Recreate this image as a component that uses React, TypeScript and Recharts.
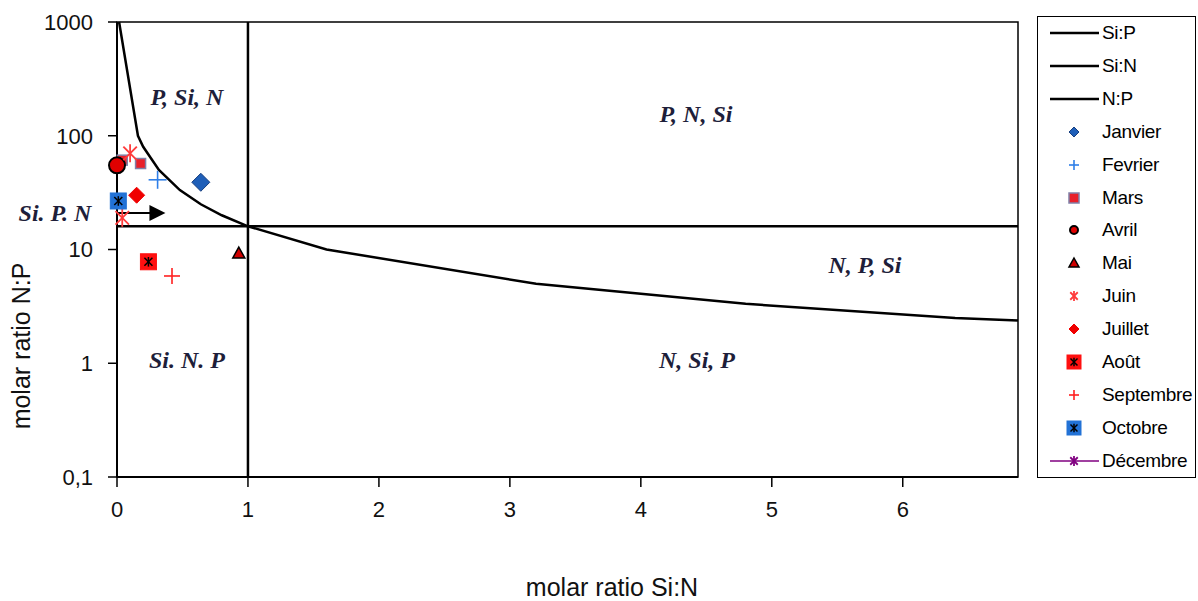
import React from 'react';
import { ScatterChart, Scatter, XAxis, YAxis, ReferenceLine, ReferenceArea } from 'recharts';

// Si:P = 16 boundary
const siPX = [0.016, 0.16, 0.2, 0.32, 0.48, 0.64, 0.8, 1, 1.6, 3.2, 4.8, 6.4, 6.88];
const siPY = [1000, 100, 80, 50, 33.3, 25, 20, 16, 10, 5, 3.33, 2.5, 2.38];
const siNX = [1, 1];
const siNY = [0.1, 1000];
const nPX = [0, 6.88];
const nPY = [16, 16];

const months = ['Janvier', 'Fevrier', 'Mars', 'Avril', 'Mai', 'Juin', 'Juillet', 'Août', 'Septembre', 'Octobre', 'Décembre'];
const monthX = [[0.64], [0.31], [0.18, 0.04], [0], [0.93], [0.1, 0.04], [0.15], [0.24], [0.42], [0.01], []];
const monthY = [[39], [41], [57, 61], [55], [9.3], [70, 19], [30], [7.8], [5.85], [26.7], []];

const xTicks = [0, 1, 2, 3, 4, 5, 6];
const yTicks = [0.1, 1, 10, 100, 1000];
const arrowX = [0, 0.37];
const arrowY = 20.9;

const regionLabels = ['P, Si, N', 'P, N, Si', 'Si. P. N', 'N, P, Si', 'Si. N. P', 'N, Si, P'];
const regionPos = [[187, 97], [696, 114], [55, 213], [865, 265], [187, 360], [697, 360]];

const styles: Record<string, { kind: string; fill: string; stroke: string }> = {
  Janvier: { kind: 'diamond', fill: '#1f5fb8', stroke: '#173f80' },
  Fevrier: { kind: 'plus', fill: 'none', stroke: '#2f7fe8' },
  Mars: { kind: 'square', fill: '#e8202a', stroke: '#8080a8' },
  Avril: { kind: 'circle', fill: '#e00000', stroke: '#000' },
  Mai: { kind: 'triangle', fill: '#d00000', stroke: '#000' },
  Juin: { kind: 'star', fill: 'none', stroke: '#ff3b3b' },
  Juillet: { kind: 'diamond', fill: '#f00000', stroke: '#f00000' },
  Août: { kind: 'xsquare', fill: '#ff1010', stroke: '#000' },
  Septembre: { kind: 'plus', fill: 'none', stroke: '#ff2020' },
  Octobre: { kind: 'xsquare', fill: '#2272d6', stroke: '#000' },
  Décembre: { kind: 'star', fill: 'none', stroke: '#800080' },
};

const plotSize: Record<string, number> = {
  Janvier: 9, Fevrier: 9, Mars: 5, Avril: 8, Mai: 6, Juin: 9, Juillet: 8, Août: 8, Septembre: 8, Octobre: 8, Décembre: 6,
};

function Marker({ kind, cx, cy, s, fill, stroke }: any) {
  if (kind === 'diamond')
    return <polygon points={`${cx},${cy - s} ${cx + s},${cy} ${cx},${cy + s} ${cx - s},${cy}`} fill={fill} stroke={stroke} strokeWidth={1} />;
  if (kind === 'plus')
    return (
      <g stroke={stroke} strokeWidth={1.6}>
        <line x1={cx - s} y1={cy} x2={cx + s} y2={cy} />
        <line x1={cx} y1={cy - s} x2={cx} y2={cy + s} />
      </g>
    );
  if (kind === 'square')
    return <rect x={cx - s} y={cy - s} width={2 * s} height={2 * s} fill={fill} stroke={stroke} strokeWidth={1.5} />;
  if (kind === 'circle') return <circle cx={cx} cy={cy} r={s} fill={fill} stroke={stroke} strokeWidth={2} />;
  if (kind === 'triangle')
    return <polygon points={`${cx},${cy - s} ${cx + s},${cy + s * 0.8} ${cx - s},${cy + s * 0.8}`} fill={fill} stroke={stroke} strokeWidth={1.5} />;
  if (kind === 'star') {
    const d = s * 0.75;
    return (
      <g stroke={stroke} strokeWidth={1.8}>
        <line x1={cx} y1={cy - s} x2={cx} y2={cy + s} />
        <line x1={cx - d} y1={cy - d} x2={cx + d} y2={cy + d} />
        <line x1={cx - d} y1={cy + d} x2={cx + d} y2={cy - d} />
      </g>
    );
  }
  // square with black star inside
  const d = s * 0.5;
  return (
    <g>
      <rect x={cx - s} y={cy - s} width={2 * s} height={2 * s} fill={fill} stroke={fill} strokeWidth={1} />
      <g stroke={stroke} strokeWidth={1.5}>
        <line x1={cx} y1={cy - s * 0.6} x2={cx} y2={cy + s * 0.6} />
        <line x1={cx - d} y1={cy - d} x2={cx + d} y2={cy + d} />
        <line x1={cx - d} y1={cy + d} x2={cx + d} y2={cy - d} />
      </g>
    </g>
  );
}

const toPts = (xs: number[], ys: number[]) => xs.map((x, i) => ({ x, y: ys[i] }));
const noDot = () => <g />;

const tickFont = { fontFamily: 'Liberation Sans, Arial', fontSize: 22, fill: '#111' };

function Arrow(props: any) {
  const { x1, y1, x2, y2 } = props;
  return (
    <g>
      <line x1={x1} y1={y1} x2={x2 - 14} y2={y2} stroke="#000" strokeWidth={2} />
      <polygon points={`${x2},${y2} ${x2 - 16},${y2 - 8} ${x2 - 16},${y2 + 8}`} fill="#000" />
    </g>
  );
}

function Legend() {
  const rows = ['Si:P', 'Si:N', 'N:P', ...months];
  return (
    <div style={{ position: 'absolute', left: 1037, top: 16, width: 159, height: 462, border: '1px solid #000', boxSizing: 'border-box' }}>
      {rows.map((r, i) => {
        const st = styles[r];
        return (
          <div key={r} style={{ position: 'absolute', left: 0, top: 16 + i * 32.9 - 11, height: 22, width: 158 }}>
            <svg width={64} height={22} style={{ position: 'absolute', left: 0, top: 0 }}>
              {!st && <line x1={12} y1={11} x2={61} y2={11} stroke="#000" strokeWidth={2.5} />}
              {r === 'Décembre' && <line x1={12} y1={11} x2={61} y2={11} stroke="#800080" strokeWidth={1.5} />}
              {st && <Marker kind={st.kind} cx={36} cy={11} s={st.kind === 'xsquare' ? 7 : st.kind === 'circle' ? 4 : 5} fill={st.fill} stroke={st.stroke} />}
            </svg>
            <span
              style={{
                position: 'absolute',
                left: 64,
                top: 0,
                lineHeight: '22px',
                fontFamily: 'Liberation Sans, Arial',
                fontSize: 19,
                letterSpacing: -0.3,
                color: '#000',
                whiteSpace: 'nowrap',
              }}
            >
              {r}
            </span>
          </div>
        );
      })}
    </div>
  );
}

export default function App() {
  return (
    <div style={{ position: 'absolute', left: 0, top: 0, width: 1198, height: 601, background: '#fff' }}>
      <ScatterChart width={1198} height={601} margin={{ top: 22, right: 180, bottom: 94, left: 0 }}>
        <XAxis
          type="number"
          dataKey="x"
          domain={[0, 6.88]}
          ticks={xTicks}
          height={30}
          axisLine={{ stroke: '#000', strokeWidth: 2 }}
          tickLine={{ stroke: '#000', strokeWidth: 1.5 }}
          tickSize={10}
          tickMargin={14}
          tick={tickFont}
        />
        <YAxis
          type="number"
          dataKey="y"
          scale="log"
          domain={[0.1, 1000]}
          ticks={yTicks}
          width={117}
          axisLine={{ stroke: '#000', strokeWidth: 2 }}
          tickLine={{ stroke: '#000', strokeWidth: 1.5 }}
          tickSize={9}
          tickMargin={15}
          tick={tickFont}
          tickFormatter={(v: number) => String(v).replace('.', ',')}
        />
        <ReferenceArea x1={0} x2={6.88} y1={0.1} y2={1000} fill="none" stroke="#000" strokeWidth={1.5} />
        <Scatter name="Si:P" data={toPts(siPX, siPY)} line={{ stroke: '#000', strokeWidth: 2.5 }} shape={noDot} isAnimationActive={false} />
        <Scatter name="Si:N" data={toPts(siNX, siNY)} line={{ stroke: '#000', strokeWidth: 2.5 }} shape={noDot} isAnimationActive={false} />
        <Scatter name="N:P" data={toPts(nPX, nPY)} line={{ stroke: '#000', strokeWidth: 2.5 }} shape={noDot} isAnimationActive={false} />
        <ReferenceLine
          segment={[{ x: arrowX[0], y: arrowY }, { x: arrowX[1], y: arrowY }]}
          shape={Arrow}
          ifOverflow="visible"
        />
        {months.map((m, i) => {
          const st = styles[m];
          return (
            <Scatter
              key={m}
              name={m}
              data={toPts(monthX[i], monthY[i])}
              isAnimationActive={false}
              shape={(p: any) => <Marker kind={st.kind} cx={p.cx} cy={p.cy} s={plotSize[m]} fill={st.fill} stroke={st.stroke} />}
            />
          );
        })}
      </ScatterChart>
      {regionLabels.map((t, i) => (
        <div
          key={t}
          style={{
            position: 'absolute',
            left: regionPos[i][0],
            top: regionPos[i][1],
            transform: 'translate(-50%, -50%)',
            fontFamily: 'Liberation Serif, Times New Roman',
            fontWeight: 'bold',
            fontStyle: 'italic',
            fontSize: 24,
            color: '#1e1e3a',
            whiteSpace: 'nowrap',
          }}
        >
          {t}
        </div>
      ))}
      <div
        style={{
          position: 'absolute',
          left: 21,
          top: 346,
          transform: 'translate(-50%, -50%) rotate(-90deg)',
          fontFamily: 'Liberation Sans, Arial',
          fontSize: 25,
          whiteSpace: 'nowrap',
          color: '#111',
        }}
      >
        molar ratio N:P
      </div>
      <div
        style={{
          position: 'absolute',
          left: 612,
          top: 587,
          transform: 'translate(-50%, -50%)',
          fontFamily: 'Liberation Sans, Arial',
          fontSize: 25,
          whiteSpace: 'nowrap',
          color: '#111',
        }}
      >
        molar ratio Si:N
      </div>
      <Legend />
    </div>
  );
}
